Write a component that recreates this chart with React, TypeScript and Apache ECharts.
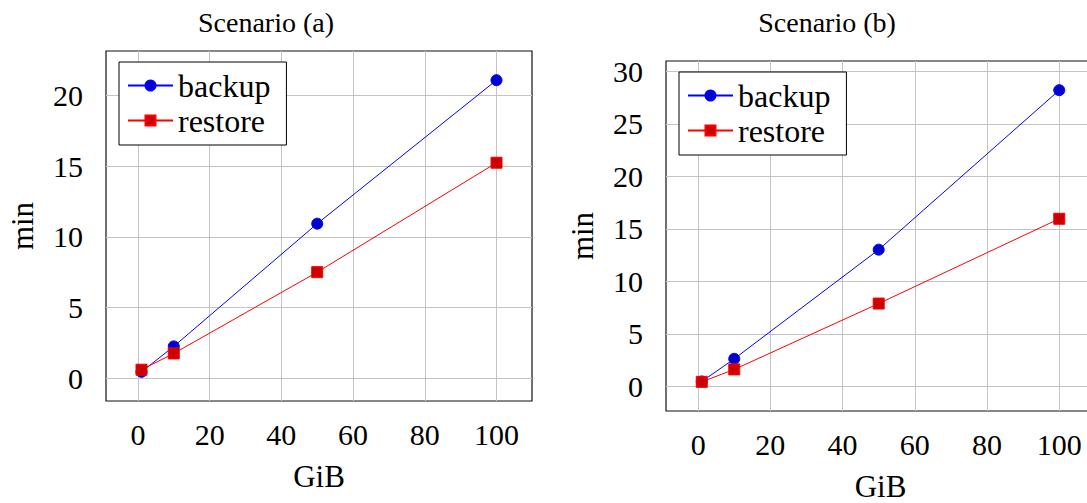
import React, { useEffect, useRef } from "react";
import * as echarts from "echarts";

// Data size in GiB and measured durations in minutes
const sizesGiB = [1, 10, 50, 100];
const xTicks = [0, 20, 40, 60, 80, 100];

const backupA = [0.45, 2.25, 10.93, 21.08];
const restoreA = [0.6, 1.75, 7.5, 15.24];
const yTicksA = [0, 5, 10, 15, 20];

const backupB = [0.47, 2.63, 13.02, 28.2];
const restoreB = [0.44, 1.62, 7.89, 15.96];
const yTicksB = [0, 5, 10, 15, 20, 25, 30];

const titles = ["Scenario (a)", "Scenario (b)"];
const seriesNames = ["backup", "restore"];

const FONT = "Liberation Serif";
const GRID_GRAY = "#c4c4c4";

const text = (fontSize: number) => ({
  fontFamily: FONT,
  fontSize,
  fontWeight: "normal" as const,
  fontStyle: "normal" as const,
  color: "#000",
});

// pgfplots-style axis limits: data range enlarged by 10% on both sides
function enlarged(values: number[]): [number, number] {
  const lo = Math.min(...values);
  const hi = Math.max(...values);
  const pad = (hi - lo) * 0.1;
  return [lo - pad, hi + pad];
}

const panels = [
  {
    grid: { left: 106, top: 51, right: 555, bottom: 102 },
    titleX: 266,
    legend: { left: 119, top: 62 },
    backup: backupA,
    restore: restoreA,
    yTicks: yTicksA,
  },
  {
    grid: { left: 666, top: 61, right: -8, bottom: 92 },
    titleX: 827,
    legend: { left: 679, top: 72 },
    backup: backupB,
    restore: restoreB,
    yTicks: yTicksB,
  },
];

function buildOption() {
  const [xMin, xMax] = enlarged(sizesGiB);
  const axisTick = {
    show: true,
    inside: false,
    length: 10,
    lineStyle: { color: GRID_GRAY, width: 1 },
  };
  const splitLine = { show: true, lineStyle: { color: GRID_GRAY, width: 1 } };

  return {
    animation: false,
    backgroundColor: "#fff",
    textStyle: { fontFamily: FONT },
    title: panels.map((p, i) => ({
      text: titles[i],
      left: p.titleX,
      top: 8,
      padding: 0,
      textAlign: "center",
      textStyle: text(28),
    })),
    grid: panels.map((p) => ({
      ...p.grid,
      show: true,
      borderColor: "#111",
      borderWidth: 1.2,
      backgroundColor: "transparent",
      containLabel: false,
      outerBoundsMode: "none",
    })),
    legend: panels.map((p) => ({
      data: seriesNames,
      orient: "vertical",
      left: p.legend.left,
      top: p.legend.top,
      itemWidth: 45,
      itemHeight: 12.5,
      itemGap: 0,
      padding: [6, 16, 7, 8],
      backgroundColor: "#fff",
      borderColor: "#000",
      borderWidth: 1,
      selectedMode: false,
      textStyle: { ...text(32), lineHeight: 35 },
    })),
    xAxis: panels.map((p, i) => ({
      type: "value",
      gridIndex: i,
      min: xMin,
      max: xMax,
      name: "GiB",
      nameLocation: "middle",
      nameGap: 60,
      nameTextStyle: text(31),
      axisLine: { show: false },
      axisTick: { ...axisTick, customValues: xTicks },
      axisLabel: { customValues: xTicks, margin: 18, ...text(30) },
      splitLine,
    })),
    yAxis: panels.map((p, i) => {
      const [yMin, yMax] = enlarged([...p.backup, ...p.restore]);
      return {
        type: "value",
        gridIndex: i,
        min: yMin,
        max: yMax,
        name: "min",
        nameLocation: "middle",
        nameGap: 68,
        nameTextStyle: text(31),
        axisLine: { show: false },
        axisTick: { ...axisTick, customValues: p.yTicks },
        axisLabel: { customValues: p.yTicks, margin: 23, ...text(30) },
        splitLine,
      };
    }),
    series: panels.flatMap((p, i) => [
      {
        name: "backup",
        type: "line",
        xAxisIndex: i,
        yAxisIndex: i,
        data: sizesGiB.map((x, k) => [x, p.backup[k]]),
        symbol: "circle",
        symbolSize: 11,
        silent: true,
        lineStyle: { color: "#0000ff", width: 1 },
        itemStyle: { color: "#0000cc", borderColor: "#0000ff", borderWidth: 1 },
        emphasis: { disabled: true },
      },
      {
        name: "restore",
        type: "line",
        xAxisIndex: i,
        yAxisIndex: i,
        data: sizesGiB.map((x, k) => [x, p.restore[k]]),
        symbol: "rect",
        symbolSize: 11,
        silent: true,
        lineStyle: { color: "#ff0000", width: 1 },
        itemStyle: { color: "#cc0000", borderColor: "#ff0000", borderWidth: 1 },
        emphasis: { disabled: true },
      },
    ]),
  };
}

export default function App() {
  const ref = useRef<HTMLDivElement>(null);

  useEffect(() => {
    if (!ref.current) return;
    const chart = echarts.init(ref.current, undefined, { renderer: "svg" });
    chart.setOption(buildOption() as any);
    return () => chart.dispose();
  }, []);

  return (
    <div
      ref={ref}
      style={{ position: "fixed", left: 0, top: 0, width: 1087, height: 503, background: "#fff" }}
    />
  );
}
